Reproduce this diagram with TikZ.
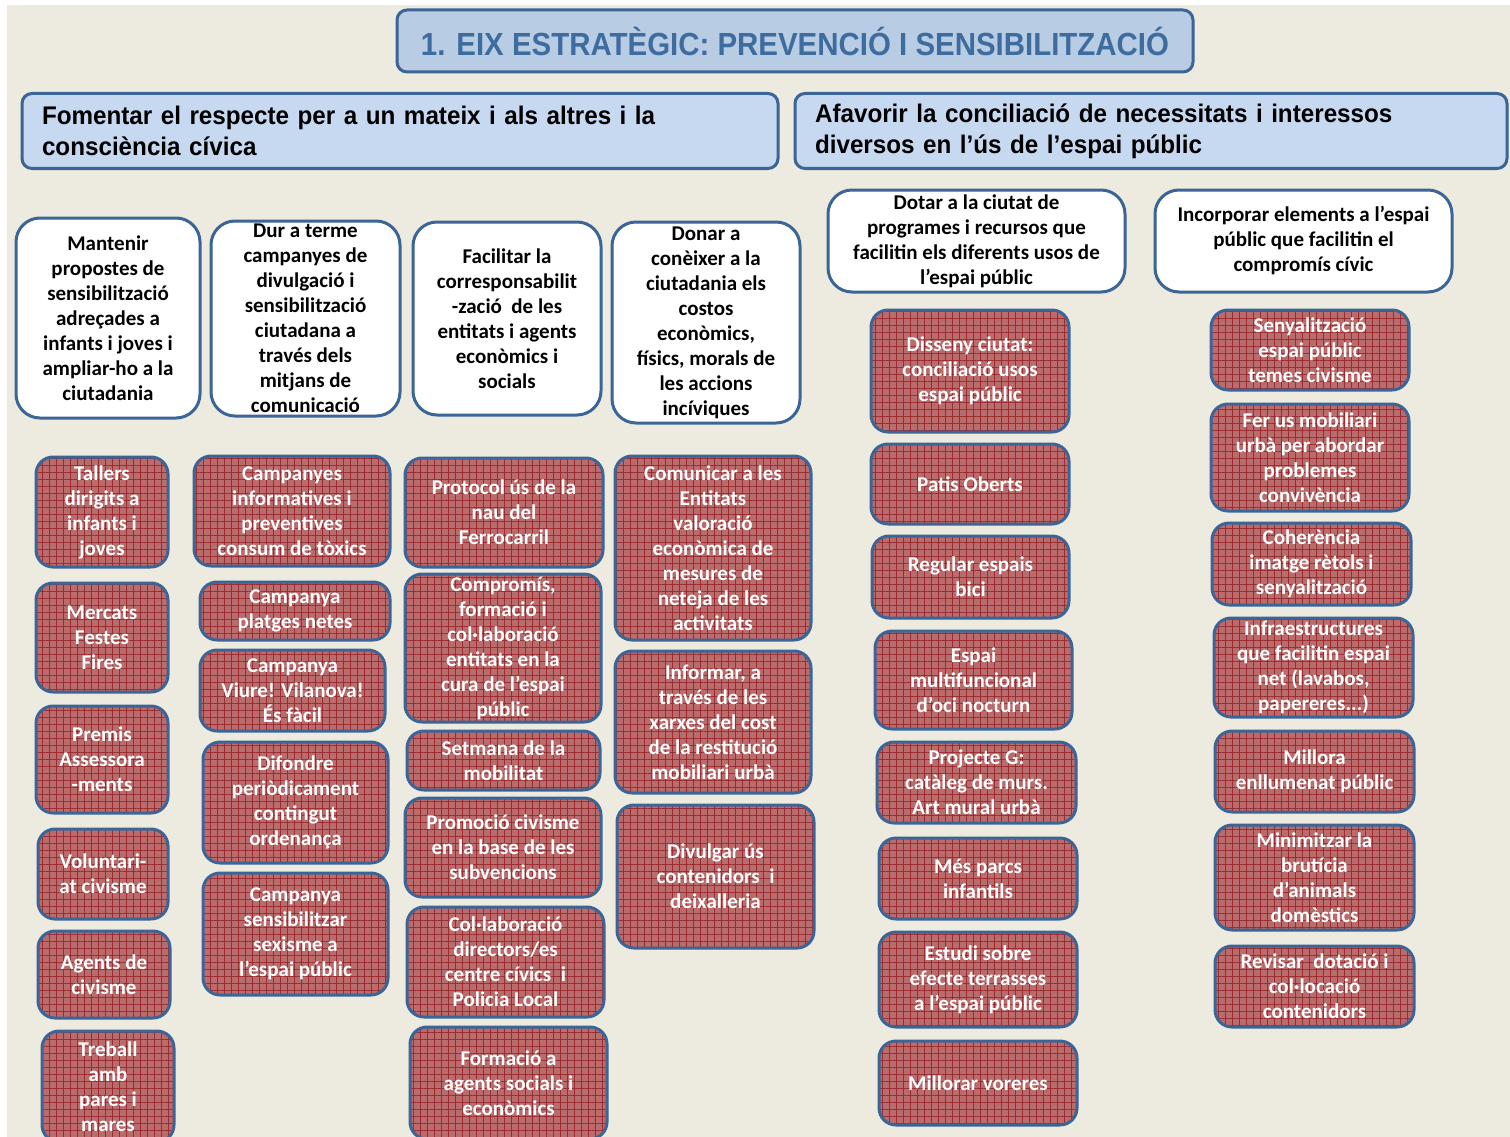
\documentclass[tikz,border=0pt]{standalone}
\usepackage{fontspec}
\setmainfont{Carlito}
\newfontfamily\headfont{Liberation Sans}[FakeStretch=0.95, WordSpace=0.6]
\newfontfamily\titlefont{Liberation Sans}[FakeStretch=0.92]
\usepackage{tikz}
\usetikzlibrary{positioning,patterns.meta}

\definecolor{beige}{RGB}{237,235,224}
\definecolor{boxblue}{RGB}{58,101,150}
\definecolor{titleblue}{RGB}{63,108,158}
\definecolor{titlefill}{RGB}{184,204,228}
\definecolor{headfill}{RGB}{198,217,241}
\definecolor{redfill}{RGB}{186,108,108}
\definecolor{gridred}{RGB}{155,45,50}

\begin{document}
\begin{tikzpicture}[x=1pt, y=-1pt,
titlebox/.style={ rectangle, rounded corners = 10, draw = boxblue, line width = 3, fill = titlefill, text = titleblue, font = \titlefont\bfseries\fontsize{32}{38}\selectfont },
headbox/.style={ rectangle, rounded corners = 10, draw = boxblue, line width = 3, fill = headfill, align = left, font = \headfont\bfseries\fontsize{25.5}{31}\selectfont },
aimbox/.style={ rectangle, rounded corners = 24, draw = boxblue, line width = 3, fill = white, align = center, inner xsep = 2, inner ysep = 0, font = \bfseries\fontsize{21}{25}\selectfont },
actbox/.style={ rectangle, rounded corners = 17, draw = boxblue, line width = 3, align = center, inner xsep = 2, inner ysep = 0, text = white, font = \bfseries\fontsize{21}{25}\selectfont,
  preaction = {fill = redfill},
  preaction = {pattern = {Lines[angle=0, distance=7pt, line width=0.8pt]}, pattern color = gridred},
  preaction = {pattern = {Lines[angle=90, distance=7pt, line width=0.8pt]}, pattern color = gridred} }]

\useasboundingbox (0,0) rectangle (1510,1137);
\fill [white] (0,0) rectangle (1510,1137);
\fill [beige] (7,5) rectangle (1510,1137);

%title and the two aims
\node (title) [titlebox, minimum width = 796, minimum height = 62] at (795,41) {1. EIX ESTRAT\`EGIC: PREVENCI\'O I SENSIBILITZACI\'O};
\node (fomentar) [headbox, minimum width = 756, minimum height = 75, text width = 716] at (400,131) {Fomentar el respecte per a un mateix i als altres i la\\ consci\`encia c\'ivica};
\node (afavorir) [headbox, minimum width = 712, minimum height = 75, text width = 672] at (1151,131) {Afavorir la conciliaci\'o de necessitats i interessos\\ diversos en l’\'us de l’espai p\'ublic};

%white boxes
\node (mantenir) [aimbox, minimum width = 184, minimum height = 200] at (108,318) {Mantenir\\ propostes de\\ sensibilitzaci\'o\\ adre\c{c}ades a\\ infants i joves i\\ ampliar-ho a la\\ ciutadania};
\node (durterme) [aimbox, minimum width = 189, minimum height = 195] at (305.5,318.5) {Dur a terme\\ campanyes de\\ divulgaci\'o i\\ sensibilitzaci\'o\\ ciutadana a\\ trav\'es dels\\ mitjans de\\ comunicaci\'o};
\node (facilitar) [aimbox, minimum width = 188, minimum height = 193] at (507,318.5) {Facilitar la\\ corresponsabilit\\ -zaci\'o\ \ de les\\ entitats i agents\\ econ\`omics i\\ socials};
\node (donar) [aimbox, minimum width = 188, minimum height = 201] at (706,322.5) {Donar a\\ con\`eixer a la\\ ciutadania els\\ costos\\ econ\`omics,\\ f\'isics, morals de\\ les accions\\ inc\'iviques};
\node (dotar) [aimbox, minimum width = 297, minimum height = 102] at (976.5,241) {Dotar a la ciutat de\\ programes i recursos que\\ facilitin els diferents usos de\\ l’espai p\'ublic};
\node (incorporar) [aimbox, minimum width = 297, minimum height = 102] at (1303.5,241) {Incorporar elements a l’espai\\ p\'ublic que facilitin el\\ comprom\'is c\'ivic};

%actions under mantenir
\node (tallers) [actbox, minimum width = 132, minimum height = 110] at (102,512) {Tallers\\ dirigits a\\ infants i\\ joves};
\node (mercats) [actbox, minimum width = 132, minimum height = 109] at (102,637.5) {Mercats\\ Festes\\ Fires};
\node (premis) [actbox, minimum width = 132, minimum height = 107] at (102,759.5) {Premis\\ Assessora\\ -ments};
\node (voluntariat) [actbox, minimum width = 130, minimum height = 90] at (103,874) {Voluntari-\\ at civisme};
\node (agents) [actbox, minimum width = 132, minimum height = 87] at (104,974.5) {Agents de\\ civisme};
\node (treball) [actbox, minimum width = 132, minimum height = 111] at (108,1086.5) {Treball\\ amb\\ pares i\\ mares};

%actions under durterme
\node (campanyes) [actbox, minimum width = 196, minimum height = 110] at (292,511) {Campanyes\\ informatives i\\ preventives\\ consum de t\`oxics};
\node (platges) [actbox, minimum width = 190, minimum height = 58] at (295,611) {Campanya\\ platges netes};
\node (viure) [actbox, minimum width = 185, minimum height = 81] at (292.5,690.5) {Campanya\\ Viure! Vilanova!\\ \'Es f\`acil};
\node (difondre) [actbox, minimum width = 185, minimum height = 121] at (295.5,802.5) {Difondre\\ peri\`odicament\\ contingut\\ ordenan\c{c}a};
\node (sexisme) [actbox, minimum width = 185, minimum height = 122] at (295.5,934) {Campanya\\ sensibilitzar\\ sexisme a\\ l’espai p\'ublic};

%actions under facilitar
\node (protocol) [actbox, minimum width = 198, minimum height = 109] at (504,512.5) {Protocol \'us de la\\ nau del\\ Ferrocarril};
\node (compromis) [actbox, minimum width = 196, minimum height = 148] at (503,648) {Comprom\'is,\\ formaci\'o i\\ col·laboraci\'o\\ entitats en la\\ cura de l’espai\\ p\'ublic};
\node (setmana) [actbox, minimum width = 193, minimum height = 59] at (503.5,760.5) {Setmana de la\\ mobilitat};
\node (promocio) [actbox, minimum width = 196, minimum height = 99] at (503,847.5) {Promoci\'o civisme\\ en la base de les\\ subvencions};
\node (collab) [actbox, minimum width = 197, minimum height = 110] at (505.5,962) {Col·laboraci\'o\\ directors/es\\ centre c\'ivics\ \ i\\ Policia Local};
\node (formacio) [actbox, minimum width = 197, minimum height = 112] at (508.5,1083) {Formaci\'o a\\ agents socials i\\ econ\`omics};

%actions under donar
\node (comunicar) [actbox, minimum width = 196, minimum height = 184] at (713,548) {Comunicar a les\\ Entitats\\ valoraci\'o\\ econ\`omica de\\ mesures de\\ neteja de les\\ activitats};
\node (informar) [actbox, minimum width = 196, minimum height = 142] at (713,722) {Informar, a\\ trav\'es de les\\ xarxes del cost\\ de la restituci\'o\\ mobiliari urb\`a};
\node (divulgar) [actbox, minimum width = 197, minimum height = 143] at (715.5,876.5) {Divulgar \'us\\ contenidors\ \ i\\ deixalleria};

%actions under dotar
\node (disseny) [actbox, minimum width = 198, minimum height = 122] at (970,371) {Disseny ciutat:\\ conciliaci\'o usos\\ espai p\'ublic};
\node (patis) [actbox, minimum width = 198, minimum height = 80] at (970,484) {Patis Oberts};
\node (bici) [actbox, minimum width = 197, minimum height = 82] at (970.5,577) {Regular espais\\ bici};
\node (oci) [actbox, minimum width = 197, minimum height = 98] at (973.5,680) {Espai\\ multifuncional\\ d’oci nocturn};
\node (projecteg) [actbox, minimum width = 199, minimum height = 81] at (976.5,782.5) {Projecte G:\\ cat\`aleg de murs.\\ Art mural urb\`a};
\node (parcs) [actbox, minimum width = 198, minimum height = 81] at (978,878.5) {M\'es parcs\\ infantils};
\node (terrasses) [actbox, minimum width = 198, minimum height = 95] at (978,979.5) {Estudi sobre\\ efecte terrasses\\ a l’espai p\'ublic};
\node (voreres) [actbox, minimum width = 198, minimum height = 84] at (978,1083) {Millorar voreres};

%actions under incorporar
\node (senyal) [actbox, minimum width = 198, minimum height = 80] at (1310,350) {Senyalitzaci\'o\\ espai p\'ublic\\ temes civisme};
\node (mobiliari) [actbox, minimum width = 198, minimum height = 107] at (1310,457.5) {Fer us mobiliari\\ urb\`a per abordar\\ problemes\\ conviv\`encia};
\node (retols) [actbox, minimum width = 199, minimum height = 82] at (1311.5,564) {Coher\`encia\\ imatge r\`etols i\\ senyalitzaci\'o};
\node (infra) [actbox, minimum width = 199, minimum height = 99] at (1313.5,667.5) {Infraestructures\\ que facilitin espai\\ net (lavabos,\\ papereres...)};
\node (enllumenat) [actbox, minimum width = 199, minimum height = 81] at (1314.5,771.5) {Millora\\ enllumenat p\'ublic};
\node (bruticia) [actbox, minimum width = 199, minimum height = 105] at (1314.5,877.5) {Minimitzar la\\ brut\'icia\\ d’animals\\ dom\`estics};
\node (contenidors) [actbox, minimum width = 199, minimum height = 81] at (1314.5,986.5) {Revisar\ \ dotaci\'o i\\ col·locaci\'o\\ contenidors};

\end{tikzpicture}
\end{document}
